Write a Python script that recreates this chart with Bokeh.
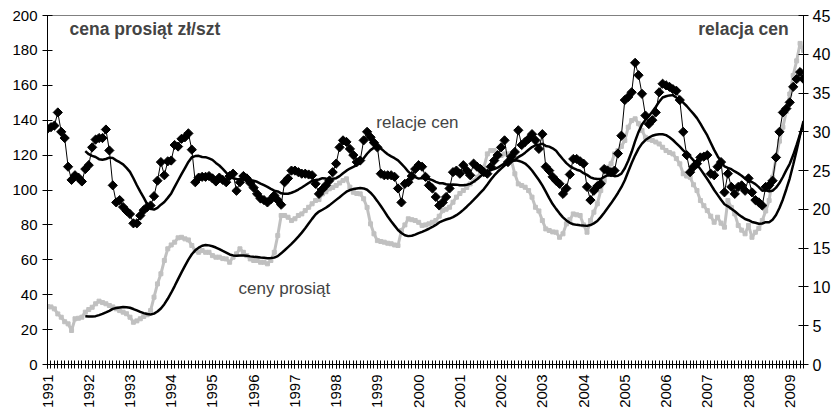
import math
import pandas as pd
from bokeh.plotting import figure
from bokeh.models import (ColumnDataSource, Range1d, LinearAxis, FixedTicker, Label)
from bokeh.embed import file_html
from bokeh.resources import INLINE

# ---- data (monthly, Jan 1991 .. May 2009) ----
start_year = 1991
year_labels = [str(y) for y in range(1991, 2010)]

# ceny prosiąt, zł/szt (left axis)
ceny = [
    33.2, 33.0, 31.9, 29.0, 27.1, 24.5, 23.3, 19.5, 26.2, 26.5,
    27.1, 30.0, 31.5, 32.8, 34.8, 36.3, 35.5, 34.8, 33.8, 33.0,
    31.9, 30.9, 30.0, 29.1, 27.1, 24.2, 25.0, 26.2, 27.5, 28.5,
    30.9, 38.6, 46.2, 52.0, 59.6, 66.3, 68.5, 70.1, 72.6, 72.9,
    72.0, 71.4, 68.2, 65.3, 64.3, 65.3, 64.3, 64.3, 62.4, 61.5,
    61.5, 60.7, 60.5, 58.6, 61.5, 63.4, 66.3, 64.3, 62.4, 60.5,
    59.6, 59.6, 58.6, 58.6, 57.7, 59.6, 64.3, 73.9, 85.4, 85.4,
    84.4, 82.5, 83.5, 85.4, 86.3, 88.2, 90.1, 92.1, 94.0, 94.5,
    97.8, 99.0, 100.7, 101.5, 102.6, 104.0, 105.4, 106.4, 101.6, 98.7,
    98.0, 97.8, 95.0, 90.0, 80.6, 74.9, 71.0, 70.5, 70.1, 69.5,
    69.2, 68.5, 68.2, 76.8, 80.0, 83.5, 83.0, 82.5, 81.5, 79.7,
    80.0, 80.6, 81.5, 82.5, 85.0, 88.2, 89.0, 90.1, 93.0, 95.9,
    98.0, 99.7, 101.5, 103.5, 105.4, 107.3, 110.0, 113.0, 120.7, 122.6,
    122.6, 121.0, 119.8, 120.7, 120.7, 116.9, 109.3, 103.5, 102.6, 101.6,
    99.7, 95.9, 90.1, 88.0, 82.5, 77.7, 76.8, 76.0, 75.8, 72.9,
    74.9, 80.6, 83.0, 86.3, 85.8, 85.4, 80.0, 75.8, 82.5, 87.3,
    92.1, 99.7, 105.4, 113.0, 115.0, 120.7, 122.6, 125.0, 128.4, 136.0,
    139.8, 140.8, 138.0, 134.1, 130.2, 129.0, 128.4, 127.5, 126.4, 124.5,
    122.6, 121.5, 120.7, 118.0, 115.0, 109.3, 108.0, 107.3, 103.0, 99.7,
    94.0, 91.0, 88.2, 85.0, 81.5, 84.4, 81.0, 78.7, 94.0, 90.0,
    86.3, 79.7, 77.0, 74.9, 79.7, 72.9, 75.8, 78.0, 82.5, 88.0,
    94.0, 107.3, 118.0, 128.0, 136.0, 145.0, 155.0, 165.6, 174.0, 184.0,
    180.0,
]

# relacje cen (right axis)
relacje = [
    30.4, 30.6, 30.8, 32.5, 30.0, 29.2, 25.5, 23.8, 24.4, 24.1,
    23.6, 25.2, 25.7, 28.0, 29.0, 29.2, 29.2, 30.3, 27.6, 23.1,
    20.9, 21.2, 20.3, 19.8, 19.4, 18.2, 18.2, 19.2, 19.9, 20.3,
    20.5, 21.7, 23.7, 26.1, 24.4, 26.2, 26.3, 28.3, 28.1, 29.1,
    29.3, 29.8, 27.7, 23.5, 24.1, 24.2, 24.2, 24.3, 24.0, 23.6,
    24.1, 23.8, 23.5, 24.3, 24.6, 22.4, 23.5, 24.3, 24.0, 23.4,
    22.8, 22.0, 21.4, 21.2, 20.9, 21.3, 21.8, 21.2, 20.6, 23.5,
    24.0, 25.0, 25.0, 24.8, 24.6, 24.6, 24.5, 24.4, 23.3, 22.0,
    22.6, 23.1, 23.7, 24.8, 25.9, 28.0, 28.9, 28.7, 27.8, 27.0,
    26.1, 26.3, 28.9, 30.0, 29.3, 28.6, 28.0, 24.6, 24.4, 24.4,
    24.4, 24.2, 22.7, 20.9, 23.3, 23.5, 24.3, 25.2, 25.7, 25.5,
    24.2, 23.1, 22.7, 21.6, 20.5, 20.9, 21.6, 22.7, 24.8, 25.0,
    24.6, 25.7, 25.0, 24.4, 25.9, 25.5, 25.2, 24.8, 24.6, 25.5,
    26.3, 27.0, 28.0, 28.9, 26.1, 26.8, 27.4, 30.2, 28.3, 28.7,
    29.1, 29.7, 28.9, 27.8, 29.7, 25.5, 25.0, 24.2, 23.7, 23.3,
    22.0, 22.7, 24.5, 26.5, 26.5, 26.2, 25.9, 22.9, 21.2, 22.4,
    23.0, 23.3, 25.2, 25.0, 24.8, 25.0, 27.2, 29.5, 34.1, 34.5,
    35.1, 38.9, 37.3, 34.9, 32.1, 31.0, 31.5, 32.5, 35.1, 36.2,
    36.0, 35.8, 35.5, 35.3, 34.1, 30.0, 27.0, 24.8, 25.5, 25.9,
    26.7, 26.8, 27.0, 24.6, 24.4, 25.5, 26.1, 22.2, 24.6, 22.9,
    22.0, 22.9, 23.1, 22.4, 24.0, 22.2, 21.2, 20.9, 20.5, 22.9,
    23.1, 23.7, 26.7, 30.0, 32.5, 33.0, 33.8, 35.8, 36.8, 37.7,
    36.8,
]

n = len(ceny)
assert n == len(relacje)
months = list(range(n))

# 12-period moving-average trendlines (as in the original spreadsheet chart)
ceny_ma = pd.Series(ceny).rolling(12).mean().tolist()
rel_ma = pd.Series(relacje).rolling(12).mean().tolist()

src = ColumnDataSource(dict(m=months, ceny=ceny, rel=relacje,
                            ceny_ma=ceny_ma, rel_ma=rel_ma))

FONT = "Liberation Sans"

p = figure(width=837, height=415, output_backend="svg", toolbar_location=None,
           x_range=Range1d(0, n - 1), y_range=Range1d(0, 200),
           min_border_left=47, min_border_right=34, min_border_top=15,
           min_border_bottom=51)
p.extra_y_ranges = {"rel": Range1d(0, 45)}
p.xgrid.visible = False
p.ygrid.visible = False
p.outline_line_color = "#808080"
p.background_fill_color = "white"
p.border_fill_color = "white"

# x axis: a label at each January, a tick every month
xa = p.xaxis[0]
year_ticks = list(range(0, n, 12))
xa.ticker = FixedTicker(ticks=year_ticks, minor_ticks=months)
xa.major_label_overrides = {t: year_labels[i] for i, t in enumerate(year_ticks)}
xa.major_label_orientation = math.pi / 2
xa.major_tick_in = 4
xa.major_tick_out = 4
xa.minor_tick_in = 4
xa.minor_tick_out = 4
xa.minor_tick_line_color = "black"
xa.major_label_text_font = FONT
xa.major_label_text_font_size = "15px"
xa.major_label_standoff = 6

ya = p.yaxis[0]
ya.ticker = FixedTicker(ticks=list(range(0, 201, 20)), minor_ticks=[])
ya.major_tick_in = 5
ya.major_tick_out = 5
ya.major_label_text_font = FONT
ya.major_label_text_font_size = "15px"
ya.major_label_standoff = 5

ra = LinearAxis(y_range_name="rel",
                ticker=FixedTicker(ticks=list(range(0, 46, 5)), minor_ticks=[]))
ra.major_tick_in = 5
ra.major_tick_out = 5
ra.major_label_text_font = FONT
ra.major_label_text_font_size = "16px"
ra.major_label_standoff = 4
p.add_layout(ra, "right")

for ax in (xa, ya, ra):
    ax.axis_line_color = "black"
    ax.major_tick_line_color = "black"
    ax.major_label_text_color = "black"

# ceny prosiąt (grey)
p.line("m", "ceny", source=src, line_color="#c0c0c0", line_width=3)
p.scatter("m", "ceny", source=src, marker="square", size=4,
          fill_color="#c0c0c0", line_color="#c0c0c0")

# relacje cen (black diamonds)
p.line("m", "rel", source=src, y_range_name="rel", line_color="black", line_width=1)
p.scatter("m", "rel", source=src, y_range_name="rel", marker="square",
          angle=math.pi / 4, size=6.5, fill_color="black", line_color="black")

# trendlines
p.line("m", "ceny_ma", source=src, line_color="black", line_width=2.5)
p.line("m", "rel_ma", source=src, y_range_name="rel", line_color="black", line_width=2.5)

# texts
p.add_layout(Label(x=6.4, y=192.5, text="cena prosiąt zł/szt", text_font=FONT,
                   text_font_style="bold", text_font_size="17.5px",
                   text_baseline="middle", text_align="left"))
p.add_layout(Label(x=215.7, y=192.5, text="relacja cen", text_font=FONT,
                   text_font_style="bold", text_font_size="17.5px",
                   text_baseline="middle", text_align="right"))
p.add_layout(Label(x=95.7, y=138.7, text="relacje cen", text_font=FONT,
                   text_font_size="17px", text_baseline="middle", text_align="left"))
p.add_layout(Label(x=55.6, y=43.5, text="ceny prosiąt", text_font=FONT,
                   text_font_size="17px", text_baseline="middle", text_align="left"))

open("out.html", "w").write(file_html(p, INLINE))
